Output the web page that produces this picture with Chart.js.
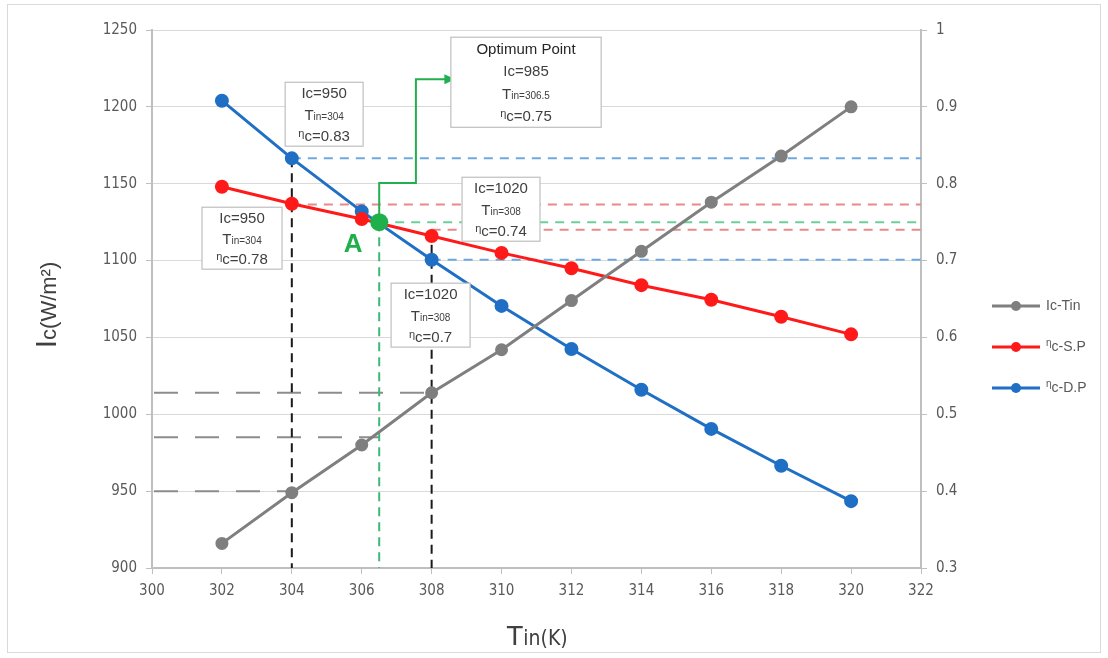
<!DOCTYPE html>
<html>
<head>
<meta charset="utf-8">
<script src="https://cdn.jsdelivr.net/npm/chart.js@4.4.1/dist/chart.umd.min.js"></script>
<style>
  html, body { margin: 0; padding: 0; background: #ffffff; }
  #wrap { width: 1108px; height: 658px; position: relative; }
</style>
</head>
<body>
<div id="wrap"><canvas id="c" width="1108" height="658"></canvas></div>
<script>
// ---------------- data ----------------
const tin = [302, 304, 306, 308, 310, 312, 314, 316, 318, 320];
const icTin = [916, 949, 980, 1014, 1042, 1074, 1106, 1138, 1168, 1200];
const etaSP = [0.796, 0.774, 0.754, 0.732, 0.710, 0.690, 0.668, 0.649, 0.627, 0.604];
const etaDP = [0.908, 0.833, 0.764, 0.701, 0.641, 0.585, 0.532, 0.481, 0.433, 0.387];
const seriesNames = ["Ic-Tin", "ηc-S.P", "ηc-D.P"];
const xTicks = [300, 322, 2];        // min, max, step
const yLeftTicks = [900, 1250, 50];
const yRightTicks = [0.3, 1, 0.1];

// guide values
const optimum = { tin: 306.5, ic: 985, eta: 0.75 };
const leftGuides = [ { ic: 1014, toTin: 308 }, { ic: 985, toTin: 306.5 }, { ic: 950, toTin: 304 } ];
const rightGuides = [
  { eta: 0.833, fromTin: 304, color: '#6fa8dc' },
  { eta: 0.773, fromTin: 304, color: '#e88a8a' },
  { eta: 0.75, fromTin: 306.5, color: '#6ccf9a' },
  { eta: 0.74, fromTin: 308, color: '#e88a8a' },
  { eta: 0.701, fromTin: 308, color: '#6fa8dc' }
];
const vGuides = [
  { tin: 304, eta: 0.833, color: '#1a1a1a' },
  { tin: 308, eta: 0.74, color: '#1a1a1a' },
  { tin: 306.5, eta: 0.75, color: '#3cb878' }
];

// annotation boxes (data coords: x in Tin, y in Ic)
const boxes = [
  { x0: 303.81, x1: 306.04, y0: 1216, y1: 1174.4, lines: [["Ic=950"], ["T", "in=304"], ["η", "c=0.83"]] },
  { x0: 301.43, x1: 303.72, y0: 1134.7, y1: 1094.4, lines: [["Ic=950"], ["T", "in=304"], ["η", "c=0.78"]] },
  { x0: 308.55, x1: 312.85, y0: 1245.3, y1: 1186.7, lines: [["Optimum Point"], ["Ic=985"], ["T", "in=306.5"], ["η", "c=0.75"]] },
  { x0: 308.87, x1: 311.10, y0: 1154.2, y1: 1112.6, lines: [["Ic=1020"], ["T", "in=308"], ["η", "c=0.74"]] },
  { x0: 306.84, x1: 309.10, y0: 1085.3, y1: 1043.7, lines: [["Ic=1020"], ["T", "in=308"], ["η", "c=0.7"]] }
];
// arrow path from optimum point (Tin, Ic)
const arrowPath = [[306.5, 1150.5], [307.55, 1150.5], [307.55, 1218], [308.45, 1218]];

const FONT = "'Liberation Sans', 'DejaVu Sans', sans-serif";
const TICKFONT = "'Liberation Sans Narrow', 'DejaVu Sans Condensed', 'Liberation Sans', sans-serif";
const C_GRAY = '#7f7f7f', C_RED = '#ff1a1a', C_BLUE = '#1f6fc5';

function pts(ys) { return tin.map((t, i) => ({ x: t, y: ys[i] })); }

function runFont(kind, base) {
  if (kind === 'sub') return Math.round(base * 0.68);
  if (kind === 'sup') return Math.round(base * 0.7);
  return base;
}
function drawLine(ctx, parts, cx, cy, base, color) {
  const runs = [];
  if (parts.length === 1) runs.push({ t: parts[0], k: 'n' });
  else if (parts[0] === 'T') { runs.push({ t: 'T', k: 'n' }); runs.push({ t: parts[1], k: 'sub' }); }
  else { runs.push({ t: parts[0], k: 'sup' }); runs.push({ t: parts[1], k: 'n' }); }
  let w = 0;
  runs.forEach(r => { ctx.font = runFont(r.k, base) + 'px ' + FONT; r.w = ctx.measureText(r.t).width; w += r.w; });
  let x = cx - w / 2;
  ctx.fillStyle = color;
  ctx.textBaseline = 'alphabetic';
  ctx.textAlign = 'left';
  runs.forEach(r => {
    ctx.font = runFont(r.k, base) + 'px ' + FONT;
    let dy = 0;
    if (r.k === 'sup') dy = -4;
    ctx.fillText(r.t, x, cy + base * 0.36 + dy);
    x += r.w;
  });
}

const overlay = {
  id: 'overlay',
  beforeDraw(chart) {
    const ctx = chart.ctx;
    ctx.save();
    ctx.strokeStyle = '#d9d9d9';
    ctx.lineWidth = 1;
    ctx.strokeRect(7.5, 4.5, 1093, 648);
    ctx.restore();
  },
  beforeDatasetsDraw(chart) {
    const ctx = chart.ctx, sx = chart.scales.x, sy = chart.scales.y, sr = chart.scales.y1;
    const area = chart.chartArea;
    ctx.save();
    ctx.strokeStyle = '#8c8c8c'; ctx.lineWidth = 2; ctx.setLineDash([24, 17]);
    leftGuides.forEach(g => {
      const y = sy.getPixelForValue(g.ic);
      ctx.beginPath(); ctx.moveTo(area.left + 2, y); ctx.lineTo(sx.getPixelForValue(g.toTin), y); ctx.stroke();
    });
    ctx.lineWidth = 2; ctx.setLineDash([9, 7]);
    rightGuides.forEach(g => {
      const y = sr.getPixelForValue(g.eta);
      ctx.strokeStyle = g.color;
      ctx.beginPath(); ctx.moveTo(sx.getPixelForValue(g.fromTin), y); ctx.lineTo(area.right, y); ctx.stroke();
    });
    ctx.lineWidth = 2; ctx.setLineDash([9, 6]);
    vGuides.forEach(g => {
      const x = sx.getPixelForValue(g.tin);
      ctx.strokeStyle = g.color;
      ctx.beginPath(); ctx.moveTo(x, sr.getPixelForValue(g.eta)); ctx.lineTo(x, area.bottom); ctx.stroke();
    });
    ctx.restore();
  },
  afterDatasetsDraw(chart) {
    const ctx = chart.ctx, sx = chart.scales.x, sy = chart.scales.y, sr = chart.scales.y1;
    ctx.save();
    ctx.strokeStyle = '#22b04f'; ctx.lineWidth = 2; ctx.setLineDash([]);
    ctx.beginPath();
    const ox = sx.getPixelForValue(optimum.tin), oy = sr.getPixelForValue(optimum.eta);
    ctx.moveTo(ox, oy);
    arrowPath.forEach(p => ctx.lineTo(sx.getPixelForValue(p[0]), sy.getPixelForValue(p[1])));
    ctx.stroke();
    const last = arrowPath[arrowPath.length - 1];
    const ax = sx.getPixelForValue(last[0]), ay = sy.getPixelForValue(last[1]);
    ctx.fillStyle = '#22b04f';
    ctx.beginPath(); ctx.moveTo(ax + 8, ay); ctx.lineTo(ax - 3, ay - 5); ctx.lineTo(ax - 3, ay + 5); ctx.closePath(); ctx.fill();
    ctx.beginPath(); ctx.arc(ox, oy, 9, 0, Math.PI * 2); ctx.fillStyle = '#1fb04c'; ctx.fill();
    ctx.font = 'bold 26px ' + FONT; ctx.textAlign = 'center'; ctx.textBaseline = 'middle';
    ctx.fillText('A', ox - 26, oy + 23);
    boxes.forEach(b => {
      const x0 = sx.getPixelForValue(b.x0), x1 = sx.getPixelForValue(b.x1);
      const y0 = sy.getPixelForValue(b.y0), y1 = sy.getPixelForValue(b.y1);
      ctx.fillStyle = '#ffffff'; ctx.fillRect(x0, y0, x1 - x0, y1 - y0);
      ctx.strokeStyle = '#bfbfbf'; ctx.lineWidth = 1.2; ctx.strokeRect(x0, y0, x1 - x0, y1 - y0);
      const n = b.lines.length;
      const step = (y1 - y0) / n;
      const cx = (x0 + x1) / 2;
      b.lines.forEach((ln, i) => {
        const cy = y0 + step * (i + 0.5);
        const color = ln[0] === 'Optimum Point' ? '#262626' : '#404040';
        drawLine(ctx, ln, cx, cy, 15, color);
      });
    });
    ctx.restore();
  },
  afterDraw(chart) {
    const ctx = chart.ctx;
    ctx.save();
    const colors = [C_GRAY, C_RED, C_BLUE];
    const ys = [306, 347, 388];
    colors.forEach((c, i) => {
      const y = ys[i];
      ctx.strokeStyle = c; ctx.lineWidth = 3;
      ctx.beginPath(); ctx.moveTo(992, y); ctx.lineTo(1040, y); ctx.stroke();
      ctx.fillStyle = c; ctx.beginPath(); ctx.arc(1016, y, 5, 0, Math.PI * 2); ctx.fill();
      const name = seriesNames[i];
      ctx.fillStyle = '#595959'; ctx.textBaseline = 'middle'; ctx.textAlign = 'left';
      if (name.startsWith('η')) {
        ctx.font = '10px ' + FONT; ctx.fillText('η', 1046, y - 4);
        const w = ctx.measureText('η').width;
        ctx.font = '14px ' + FONT; ctx.fillText(name.slice(1), 1046 + w, y);
      } else {
        ctx.font = '14px ' + FONT; ctx.fillText(name, 1046, y);
      }
    });
    ctx.fillStyle = '#404040'; ctx.textBaseline = 'alphabetic'; ctx.textAlign = 'left';
    ctx.save();
    ctx.translate(56, 305); ctx.rotate(-Math.PI / 2);
    ctx.font = '30px ' + FONT; const wI = ctx.measureText('I').width;
    ctx.font = '22px ' + FONT; const wR = ctx.measureText('c(W/m²)').width;
    let sxp = -(wI + wR) / 2;
    ctx.font = '30px ' + FONT; ctx.fillText('I', sxp, 0);
    ctx.font = '22px ' + FONT; ctx.fillText('c(W/m²)', sxp + wI, 0);
    ctx.restore();
    ctx.font = '28px ' + FONT; const wT = ctx.measureText('T').width;
    ctx.font = '21px ' + TICKFONT; const wK = ctx.measureText('in(K)').width;
    let bx = 537 - (wT + wK) / 2;
    ctx.font = '28px ' + FONT; ctx.fillText('T', bx, 645);
    ctx.font = '21px ' + TICKFONT; ctx.fillText('in(K)', bx + wT, 645);
    ctx.restore();
  }
};

const tickStyle = { family: TICKFONT, size: 15 };

new Chart(document.getElementById('c'), {
  type: 'scatter',
  data: {
    datasets: [
      { label: seriesNames[0], data: pts(icTin), yAxisID: 'y', showLine: true, borderColor: C_GRAY, backgroundColor: C_GRAY, borderWidth: 3, pointRadius: 5, pointHoverRadius: 5 },
      { label: seriesNames[1], data: pts(etaSP), yAxisID: 'y1', showLine: true, borderColor: C_RED, backgroundColor: C_RED, borderWidth: 3, pointRadius: 5.5, pointHoverRadius: 5.5 },
      { label: seriesNames[2], data: pts(etaDP), yAxisID: 'y1', showLine: true, borderColor: C_BLUE, backgroundColor: C_BLUE, borderWidth: 3, pointRadius: 5.5, pointHoverRadius: 5.5 }
    ]
  },
  options: {
    responsive: false,
    animation: false,
    devicePixelRatio: 1,
    layout: { padding: { left: 0, right: 127, top: 30, bottom: 0 } },
    plugins: { legend: { display: false }, tooltip: { enabled: false } },
    scales: {
      x: {
        type: 'linear', min: xTicks[0], max: xTicks[1],
        ticks: { stepSize: xTicks[2], color: '#595959', font: tickStyle, padding: 8, callback: v => String(v) },
        grid: { drawOnChartArea: false, drawTicks: true, tickLength: 6, color: '#bfbfbf' },
        border: { color: '#bfbfbf', width: 2 },
        afterFit(s) { s.height = 90; }
      },
      y: {
        position: 'left', min: yLeftTicks[0], max: yLeftTicks[1],
        ticks: { stepSize: yLeftTicks[2], color: '#595959', font: tickStyle, padding: 9, callback: v => String(v) },
        grid: { color: '#d9d9d9', tickColor: '#bfbfbf', tickLength: 6, lineWidth: 1 },
        border: { color: '#bfbfbf', width: 2 },
        afterFit(s) { s.width = 152; }
      },
      y1: {
        position: 'right', min: yRightTicks[0], max: yRightTicks[1],
        ticks: { stepSize: yRightTicks[2], color: '#595959', font: tickStyle, padding: 9,
                 callback: v => String(Number(v.toFixed(1))) },
        grid: { drawOnChartArea: false, tickColor: '#bfbfbf', tickLength: 6 },
        border: { color: '#bfbfbf', width: 2 },
        afterFit(s) { s.width = 60; }
      }
    }
  },
  plugins: [overlay]
});
</script>
</body>
</html>
